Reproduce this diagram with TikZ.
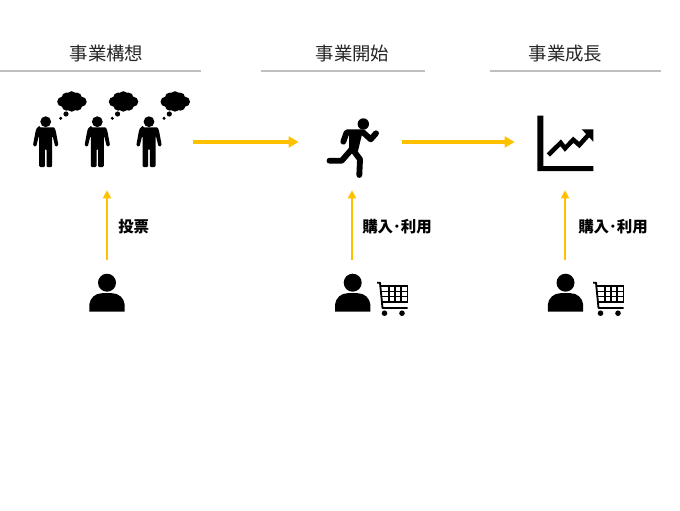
\documentclass[tikz,border=0pt]{standalone}
\usepackage{fontspec}
\usetikzlibrary{arrows.meta}
\newfontfamily\cjk{Noto Sans CJK JP}
\definecolor{flow}{HTML}{FFC000}
\definecolor{rulegrey}{HTML}{BFBFBF}
\tikzset{
  x=0.75pt,y=-0.75pt,
  heading/.style={font=\cjk\fontsize{13.8pt}{16pt}\selectfont,text=black!85,inner sep=0pt},
  actionlabel/.style={font=\cjk\bfseries\fontsize{11.6pt}{13pt}\selectfont,text=black,inner sep=0pt,anchor=west},
  headrule/.style={draw=rulegrey,line width=1pt},
  slot/.style={inner sep=0pt,minimum width=#1*0.75pt,minimum height=96*0.75pt},
  buyerslot/.style={inner sep=0pt,minimum width=40*0.75pt,minimum height=56*0.75pt},
  mainflow/.style={draw=flow,line width=2.3pt,-{Triangle[length=7.5pt,width=8pt]}},
  support/.style={draw=flow,line width=1.4pt,-{Triangle[length=6pt,width=6pt]}},
  limb/.style={draw=black,line width=4.4pt,line cap=round,line join=round},
  pics/standing/.style={code={
    \fill (0,0) circle[radius=5.4];
    \fill[rounded corners=1pt] (-6.5,5.6) -- (6.5,5.6) to[out=0,in=110] (10,9) -- (12.8,24) -- (9.6,25.2) -- (6.8,14) -- (6.5,14)
      -- (6.5,45.5) -- (0.8,45.5) -- (0.8,27) -- (-0.8,27) -- (-0.8,45.5) -- (-6.5,45.5) -- (-6.5,14) -- (-6.8,14)
      -- (-9.6,25.2) -- (-12.8,24) -- (-10,9) to[out=70,in=180] cycle;
    \fill (15,-3.4) circle[radius=1.7] (20.3,-7.7) circle[radius=2.6];
    \fill (16.5,-20) circle[radius=5] (21,-24) circle[radius=5.2] (26,-25) circle[radius=5.5]
      (31,-24) circle[radius=5.2] (36,-20) circle[radius=5] (31.5,-16) circle[radius=5]
      (26,-15) circle[radius=5] (21,-16) circle[radius=5] (26,-20) circle[radius=7];
  }},
  pics/bust/.style={code={
    \fill (0,-10) circle[radius=9];
    \fill (-17.7,19) -- (-17.7,12) to[out=85,in=180] (-5,0.5) -- (5,0.5) to[out=0,in=95] (17.7,12) -- (17.7,19) -- cycle;
  }},
  pics/cart/.style={code={
    \draw[line width=1.4pt,line join=round] (0,0) -- (3,0) -- (5.5,25.3) -- (30.6,25.3);
    \draw[line width=1.3pt] (4,3.6) -- (30.6,3.6) -- (30.6,19.2) -- (6,19.2);
    \draw[line width=1pt] (12,3.6) -- (12,19.2) (18,3.6) -- (18,19.2) (24,3.6) -- (24,19.2)
      (4.5,8.8) -- (30.6,8.8) (5,14) -- (30.6,14);
    \fill (7.5,30.5) circle[radius=2.8] (25,30.5) circle[radius=2.8];
  }},
}
\begin{document}
\begin{tikzpicture}
\useasboundingbox (0,0) rectangle (680,510);

% phase headings with their rules
\node[heading] (titleidea) at (106.5,54) {事業構想};
\node[heading] (titlestart) at (352.5,54) {事業開始};
\node[heading] (titlegrow) at (565.5,54) {事業成長};
\draw[headrule] (0,71) -- (201,71);
\draw[headrule] (261,71) -- (425,71);
\draw[headrule] (490,71) -- (661,71);

% slots that the connectors attach to
\node[slot=172] (crowd) at (107,142) {};
\node[slot=103] (runner) at (350.5,142) {};
\node[slot=100] (chart) at (565,142) {};
\node[buyerslot] (voter) at (107,288) {};
\node[buyerslot] (buyerA) at (352,288) {};
\node[buyerslot] (buyerB) at (565,288) {};

% people with thought clouds
\pic at (45.7,121.7) {standing};
\pic at (97.3,121.7) {standing};
\pic at (149,121.7) {standing};

% running figure
\fill (363.3,124) circle[radius=5.7];
\draw[limb] (343.3,141.7) -- (346.7,132.3) -- (363,132.3) -- (370.7,139.3) -- (376,133.3);
\fill (349,130) -- (363,130) -- (358,151) -- (349,152) -- cycle;
\draw[limb] (351.7,148.3) -- (360,159.3) -- (359.3,175);
\draw[limb] (351,150) -- (341.7,160.7) -- (329.5,160.7);

% growth chart
\fill (537.3,115.7) rectangle (543.3,171) (537.3,166) rectangle (593.3,171);
\draw[line width=3.4pt,line join=miter] (548.3,155) -- (560.7,142.8) -- (565,148.3) -- (573.3,139.8) -- (579.3,145) -- (588.3,135);
\fill (581.7,129.3) -- (593.3,129.3) -- (593.3,141.7) -- cycle;

% voter and buyers
\pic at (107,292.7) {bust};
\pic at (352.7,292.7) {bust};
\pic at (565.5,292.7) {bust};
\pic at (377,282.7) {cart};
\pic at (593,282.7) {cart};

% connectors
\draw[mainflow] (crowd.east) -- (runner.west);
\draw[mainflow] (runner.east) -- (chart.west);
\draw[support] (voter.north) -- (crowd.south);
\draw[support] (buyerA.north) -- (buyerA.north |- runner.south);
\draw[support] (buyerB.north) -- (chart.south);

% connector labels
\node[actionlabel] (labelvote) at (118,227) {投票};
\node[actionlabel] (labelbuyA) at (362,227) {購入･利用};
\node[actionlabel] (labelbuyB) at (578,227) {購入･利用};
\end{tikzpicture}
\end{document}
